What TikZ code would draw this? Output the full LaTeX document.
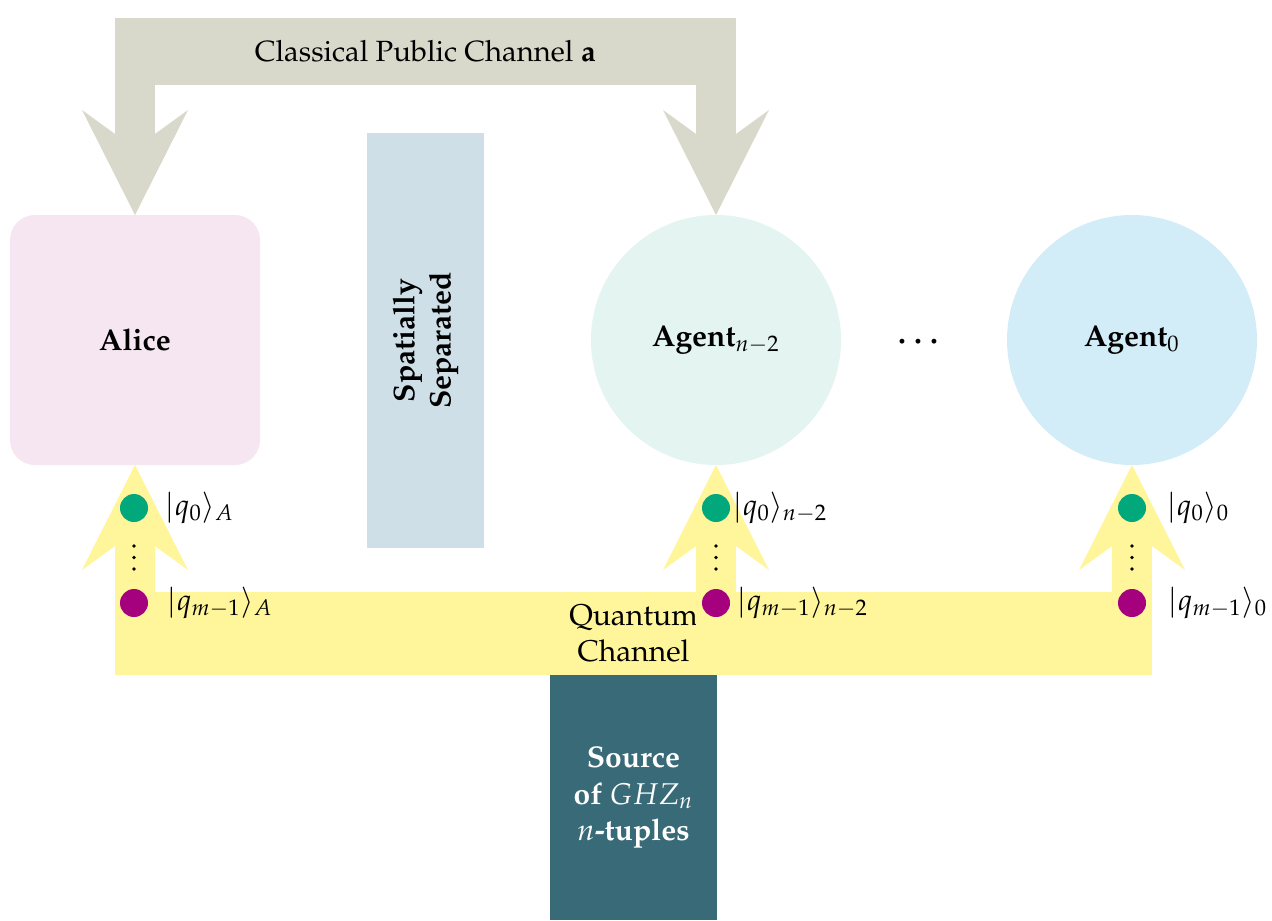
\documentclass[12pt,tikz,border=0pt]{standalone}
\usepackage[T1]{fontenc}
\usepackage{mathpazo}
\usepackage{amsmath}
\usepackage{tikz}
\usetikzlibrary{arrows.meta}
\definecolor{chgray}{HTML}{D9D9CB}		% classical channel
\definecolor{chyellow}{HTML}{FFF59B}	% quantum channel
\definecolor{alicepink}{HTML}{F5E6F1}
\definecolor{sepblue}{HTML}{CEDFE8}
\definecolor{agentmint}{HTML}{E3F4F1}
\definecolor{agentsky}{HTML}{D3EDF8}
\definecolor{sourceteal}{HTML}{396A77}
\definecolor{qgreen}{HTML}{00A87B}
\definecolor{qpurple}{HTML}{A5007D}
\tikzset{
	box/.style={rectangle, inner sep=0pt, outer sep=0pt, align=center},
	agent/.style={circle, inner sep=0pt, outer sep=0pt, minimum size=100pt},
	bigarrow/.style={line width=16pt, -{Stealth[length=42pt, width=42.4pt, inset=15.4pt, line width=0pt]}},
	qubit/.style={circle, inner sep=0pt, minimum size=11.2pt},
	ket/.style={inner sep=0pt, anchor=base west}
}

\begin{document}
\begin{tikzpicture}[x=0.4pt, y=-0.4pt]
	\useasboundingbox[fill=white] (0,0) rectangle (1272,920);
	% classical side
	\node[box, fill=chgray, minimum width=248.4pt, minimum height=26.8pt, font=\fontsize{11.7}{14}\selectfont] (classical) at (425.5,51.5) {Classical Public Channel $\mathbf{a}$};
	\node[box, fill=alicepink, rounded corners=10pt, minimum width=100pt, minimum height=100pt] (alice) at (135,340) {\textbf{Alice}};
	\node[box, fill=sepblue, rotate=90, minimum width=166pt, minimum height=46.8pt] (sep) at (425.5,340.5) {\textbf{Spatially}\\\textbf{Separated}};
	\node[agent, fill=agentmint] (agentB) at (716,340) {\textbf{Agent}$_{n-2}$};
	\node[agent, fill=agentsky] (agentA) at (1132,340) {\textbf{Agent}$_0$};
	\node (more) at (921,342) {$\boldsymbol{\cdots}$};
	\draw[bigarrow, chgray] (classical.center -| alice.north) -- (alice.north);
	\draw[bigarrow, chgray] (classical.center -| agentB.north) -- (agentB.north);
	% quantum side
	\node[box, fill=chyellow, minimum width=414.8pt, minimum height=33.2pt] (quantum) at (633.5,633.5) {Quantum\\Channel};
	\node[box, fill=sourceteal, text=white, font=\bfseries, minimum width=66.8pt, minimum height=98pt] (source) at (633.5,797.5) {Source\\of $GHZ_n$\\$n$-tuples};
	\foreach \ag in {alice, agentB, agentA}
		\draw[bigarrow, chyellow] (quantum.center -| \ag.south) -- (\ag.south);
	% qubits
	\foreach \ag/\x in {alice/134, agentB/716, agentA/1132} {
		\node[qubit, fill=qgreen] (\ag-q0) at (\x,508) {};
		\node[qubit, fill=qpurple] (\ag-qm) at (\x,603) {};
		\foreach \y in {546,557.5,569}
			\fill (\x,\y) circle (0.75pt);
	}
	\node[ket] (kA0) at (165,515) {$|q_0\rangle_A$};
	\node[ket] (kAm) at (167,610) {$|q_{m-1}\rangle_A$};
	\node[ket] (kB0) at (733,515) {$|q_0\rangle_{n-2}$};
	\node[ket] (kBm) at (737,610) {$|q_{m-1}\rangle_{n-2}$};
	\node[ket] (kC0) at (1167,515) {$|q_0\rangle_0$};
	\node[ket] (kCm) at (1168,610) {$|q_{m-1}\rangle_0$};
\end{tikzpicture}
\end{document}
